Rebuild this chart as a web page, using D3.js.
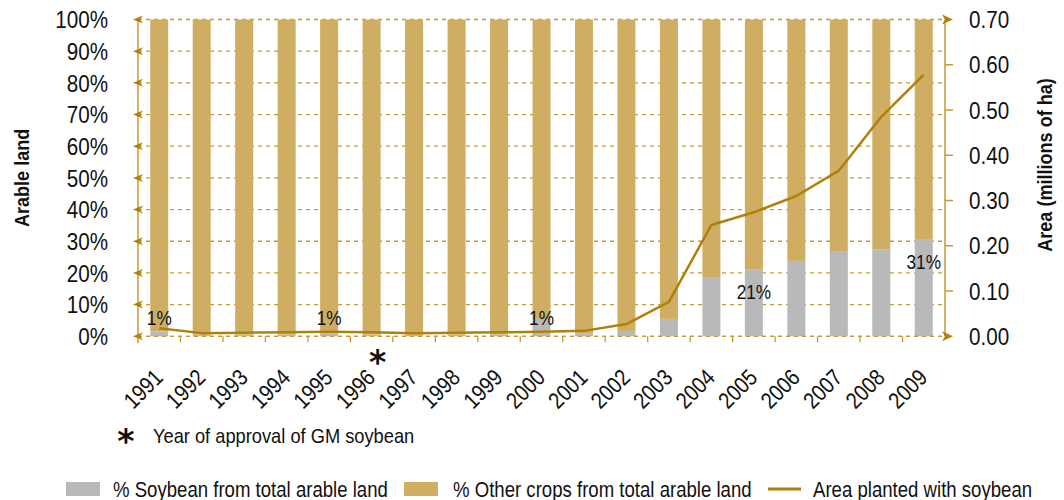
<!DOCTYPE html>
<html>
<head>
<meta charset="utf-8">
<script src="https://cdn.jsdelivr.net/npm/d3@7/dist/d3.min.js"></script>
<style>
  html, body { margin: 0; padding: 0; background: #fff; }
  svg { display: block; font-family: 'Liberation Sans', Arial, sans-serif; }
</style>
</head>
<body>
<svg id="chart"></svg>
<script>
// Data
var years = ['1991', '1992', '1993', '1994', '1995', '1996', '1997', '1998', '1999', '2000',
  '2001', '2002', '2003', '2004', '2005', '2006', '2007', '2008', '2009']
var soybeanPct = [1.5, 0.5, 0.5, 0.5, 0.8, 0.5, 0.5, 0.5, 0.6, 5.5,
  1.0, 1.7, 5.5, 18.7, 21.2, 23.8, 26.9, 27.5, 30.7]
var otherPct = [98.5, 99.5, 99.5, 99.5, 99.2, 99.5, 99.5, 99.5, 99.4, 94.5,
  99.0, 98.3, 94.5, 81.3, 78.8, 76.2, 73.1, 72.5, 69.3]
var areaMha = [0.018, 0.007, 0.008, 0.009, 0.010, 0.009, 0.007, 0.008, 0.009, 0.010,
  0.012, 0.027, 0.076, 0.246, 0.274, 0.310, 0.366, 0.485, 0.578]
var labelYears = ['1991', '1995', '2000', '2005', '2009']
var labelTexts = ['1%', '1%', '1%', '21%', '31%']
var leftTicks = [0, 10, 20, 30, 40, 50, 60, 70, 80, 90, 100]
var rightTicks = [0, 0.1, 0.2, 0.3, 0.4, 0.5, 0.6, 0.7]
var approvalYear = '1996'
var seriesNames = ['% Soybean from total arable land', '% Other crops from total arable land', 'Area planted with soybean']

;(function () {
  var WIDTH = 1064
  var HEIGHT = 500
  var GRAY = '#b9b9b9'
  var TAN = '#cfae63'
  var LINE = '#b27f0b'
  var AXIS = '#c49a32'
  var NARROW = 0.86 // squeeze Liberation Sans to look condensed

  var left = 138
  var right = 945
  var top = 19.5
  var bottom = 336.3

  var svg = d3.select('#chart')
    .attr('width', WIDTH)
    .attr('height', HEIGHT)

  // Place a text at x,y (optionally rotated), condensed horizontally
  function place (sel, fx, fy, rot, sx) {
    sel.attr('transform', function (d, i) {
      var px = typeof fx === 'function' ? fx(d, i) : fx
      var py = typeof fy === 'function' ? fy(d, i) : fy
      return 'translate(' + px + ',' + py + ')' + (rot ? ' rotate(' + rot + ')' : '') +
        ' scale(' + (sx || NARROW) + ',1)'
    })
    return sel
  }

  var x = d3.scaleBand()
    .domain(years)
    .range([left, right])
    .paddingInner(0.576)
    .paddingOuter(0.288)

  var yLeft = d3.scaleLinear().domain([0, 100]).range([bottom, top])
  var yRight = d3.scaleLinear().domain([0, 0.7]).range([bottom, top])

  // Gridlines
  svg.append('g')
    .selectAll('line')
    .data(leftTicks)
    .enter().append('line')
    .attr('x1', left)
    .attr('x2', right)
    .attr('y1', function (d) { return yLeft(d) })
    .attr('y2', function (d) { return yLeft(d) })
    .attr('stroke', AXIS)
    .attr('stroke-width', 1.3)
    .attr('stroke-dasharray', '4,4')

  // Bars
  var bars = svg.append('g')
  bars.selectAll('rect.soy')
    .data(years)
    .enter().append('rect')
    .attr('class', 'soy')
    .attr('x', function (d) { return x(d) })
    .attr('width', x.bandwidth())
    .attr('y', function (d, i) { return yLeft(soybeanPct[i]) })
    .attr('height', function (d, i) { return yLeft(0) - yLeft(soybeanPct[i]) })
    .attr('fill', GRAY)
  bars.selectAll('rect.other')
    .data(years)
    .enter().append('rect')
    .attr('class', 'other')
    .attr('x', function (d) { return x(d) })
    .attr('width', x.bandwidth())
    .attr('y', function (d, i) { return yLeft(soybeanPct[i] + otherPct[i]) })
    .attr('height', function (d, i) { return yLeft(soybeanPct[i]) - yLeft(soybeanPct[i] + otherPct[i]) })
    .attr('fill', TAN)

  // baseline drawn again on top of bars
  svg.append('line')
    .attr('x1', left).attr('x2', right)
    .attr('y1', bottom).attr('y2', bottom)
    .attr('stroke', AXIS)
    .attr('stroke-width', 1.3)
    .attr('stroke-dasharray', '4,4')

  // Left axis
  var axisG = svg.append('g')
  axisG.append('line')
    .attr('x1', left).attr('x2', left)
    .attr('y1', top).attr('y2', bottom + 7)
    .attr('stroke', AXIS)
    .attr('stroke-width', 1.5)
  axisG.selectAll('path.larrow')
    .data(leftTicks)
    .enter().append('path')
    .attr('class', 'larrow')
    .attr('d', function (d) {
      var yy = yLeft(d)
      return 'M' + (left - 5) + ',' + yy + 'L' + (left + 5) + ',' + (yy - 4) +
        'L' + (left + 2) + ',' + yy + 'L' + (left + 5) + ',' + (yy + 4) + 'Z'
    })
    .attr('fill', LINE)
  place(axisG.selectAll('text.ltick')
    .data(leftTicks)
    .enter().append('text')
    .attr('class', 'ltick'), 108, function (d) { return yLeft(d) })
    .attr('dy', '0.36em')
    .attr('text-anchor', 'end')
    .attr('font-size', 24)
    .attr('fill', '#111')
    .text(function (d) { return d + '%' })

  // Right axis
  axisG.append('line')
    .attr('x1', right).attr('x2', right)
    .attr('y1', top).attr('y2', bottom)
    .attr('stroke', AXIS)
    .attr('stroke-width', 1.5)
  axisG.selectAll('line.rtick')
    .data(rightTicks.slice(1, -1))
    .enter().append('line')
    .attr('class', 'rtick')
    .attr('x1', right).attr('x2', right + 8)
    .attr('y1', function (d) { return yRight(d) })
    .attr('y2', function (d) { return yRight(d) })
    .attr('stroke', AXIS)
    .attr('stroke-width', 1.5)
  axisG.selectAll('path.rarrow')
    .data([rightTicks[0], rightTicks[rightTicks.length - 1]])
    .enter().append('path')
    .attr('class', 'rarrow')
    .attr('d', function (d) {
      var yy = yRight(d)
      return 'M' + (right + 8) + ',' + yy + 'L' + (right - 3) + ',' + (yy - 5) +
        'L' + right + ',' + yy + 'L' + (right - 3) + ',' + (yy + 5) + 'Z'
    })
    .attr('fill', LINE)
  place(axisG.selectAll('text.rtext')
    .data(rightTicks)
    .enter().append('text')
    .attr('class', 'rtext'), 969, function (d) { return yRight(d) })
    .attr('dy', '0.36em')
    .attr('font-size', 24)
    .attr('fill', '#111')
    .text(function (d) { return d3.format('.2f')(d) })

  // X ticks at band boundaries
  axisG.selectAll('line.xtick')
    .data(years.slice(1))
    .enter().append('line')
    .attr('class', 'xtick')
    .attr('x1', function (d) { return x(d) - x.step() * x.paddingInner() / 2 })
    .attr('x2', function (d) { return x(d) - x.step() * x.paddingInner() / 2 })
    .attr('y1', bottom).attr('y2', bottom + 6)
    .attr('stroke', AXIS)
    .attr('stroke-width', 1.3)

  // X labels
  place(axisG.selectAll('text.xlab')
    .data(years)
    .enter().append('text')
    .attr('class', 'xlab'), function (d) { return x(d) + x.bandwidth() / 2 + 5 }, 379, -45)
    .attr('text-anchor', 'end')
    .attr('font-size', 23)
    .attr('fill', '#111')
    .text(function (d) { return d })

  // Area line
  var line = d3.line()
    .x(function (d, i) { return x(years[i]) + x.bandwidth() / 2 })
    .y(function (d) { return yRight(d) })
  svg.append('path')
    .datum(areaMha)
    .attr('d', line)
    .attr('fill', 'none')
    .attr('stroke', LINE)
    .attr('stroke-width', 2.5)
    .attr('stroke-linejoin', 'round')

  // Value labels
  place(svg.append('g')
    .selectAll('text')
    .data(labelYears)
    .enter().append('text'),
  function (d) { return x(d) + x.bandwidth() / 2 },
  function (d) {
    var v = soybeanPct[years.indexOf(d)]
    return Math.min(yLeft(v) + 30, yLeft(3.5))
  })
    .attr('text-anchor', 'middle')
    .attr('font-size', 20)
    .attr('fill', '#111')
    .text(function (d, i) { return labelTexts[i] })

  // Approval marker
  svg.append('text')
    .attr('x', x(approvalYear) + x.bandwidth() / 2 + 6)
    .attr('y', 374)
    .attr('text-anchor', 'middle')
    .attr('font-family', 'DejaVu Sans')
    .attr('font-weight', 'bold')
    .attr('font-size', 33)
    .attr('fill', '#111')
    .text('*')

  // Axis titles
  place(svg.append('text'), 29, (top + bottom) / 2, -90)
    .attr('text-anchor', 'middle')
    .attr('font-weight', 'bold')
    .attr('font-size', 21)
    .attr('fill', '#111')
    .text('Arable land')
  place(svg.append('text'), 1052, 165, -90)
    .attr('text-anchor', 'middle')
    .attr('font-weight', 'bold')
    .attr('font-size', 21)
    .attr('fill', '#111')
    .text('Area (millions of ha)')

  // Footnote
  svg.append('text')
    .attr('x', 126)
    .attr('y', 453)
    .attr('text-anchor', 'middle')
    .attr('font-family', 'DejaVu Sans')
    .attr('font-weight', 'bold')
    .attr('font-size', 33)
    .attr('fill', '#111')
    .text('*')
  place(svg.append('text'), 153, 443, 0, 0.87)
    .attr('font-size', 21)
    .attr('fill', '#111')
    .text('Year of approval of GM soybean')

  // Legend
  var legend = svg.append('g')
  legend.append('rect')
    .attr('x', 66).attr('y', 482).attr('width', 34).attr('height', 14)
    .attr('fill', GRAY)
  place(legend.append('text'), 113, 497, 0, 0.865)
    .attr('font-size', 21.5).attr('fill', '#111')
    .text(seriesNames[0])
  legend.append('rect')
    .attr('x', 404).attr('y', 482).attr('width', 34).attr('height', 14)
    .attr('fill', TAN)
  place(legend.append('text'), 453, 497, 0, 0.865)
    .attr('font-size', 21.5).attr('fill', '#111')
    .text(seriesNames[1])
  legend.append('line')
    .attr('x1', 768).attr('x2', 801).attr('y1', 489).attr('y2', 489)
    .attr('stroke', LINE).attr('stroke-width', 3)
  place(legend.append('text'), 813, 497, 0, 0.865)
    .attr('font-size', 21.5).attr('fill', '#111')
    .text(seriesNames[2])
})()
</script>
</body>
</html>
